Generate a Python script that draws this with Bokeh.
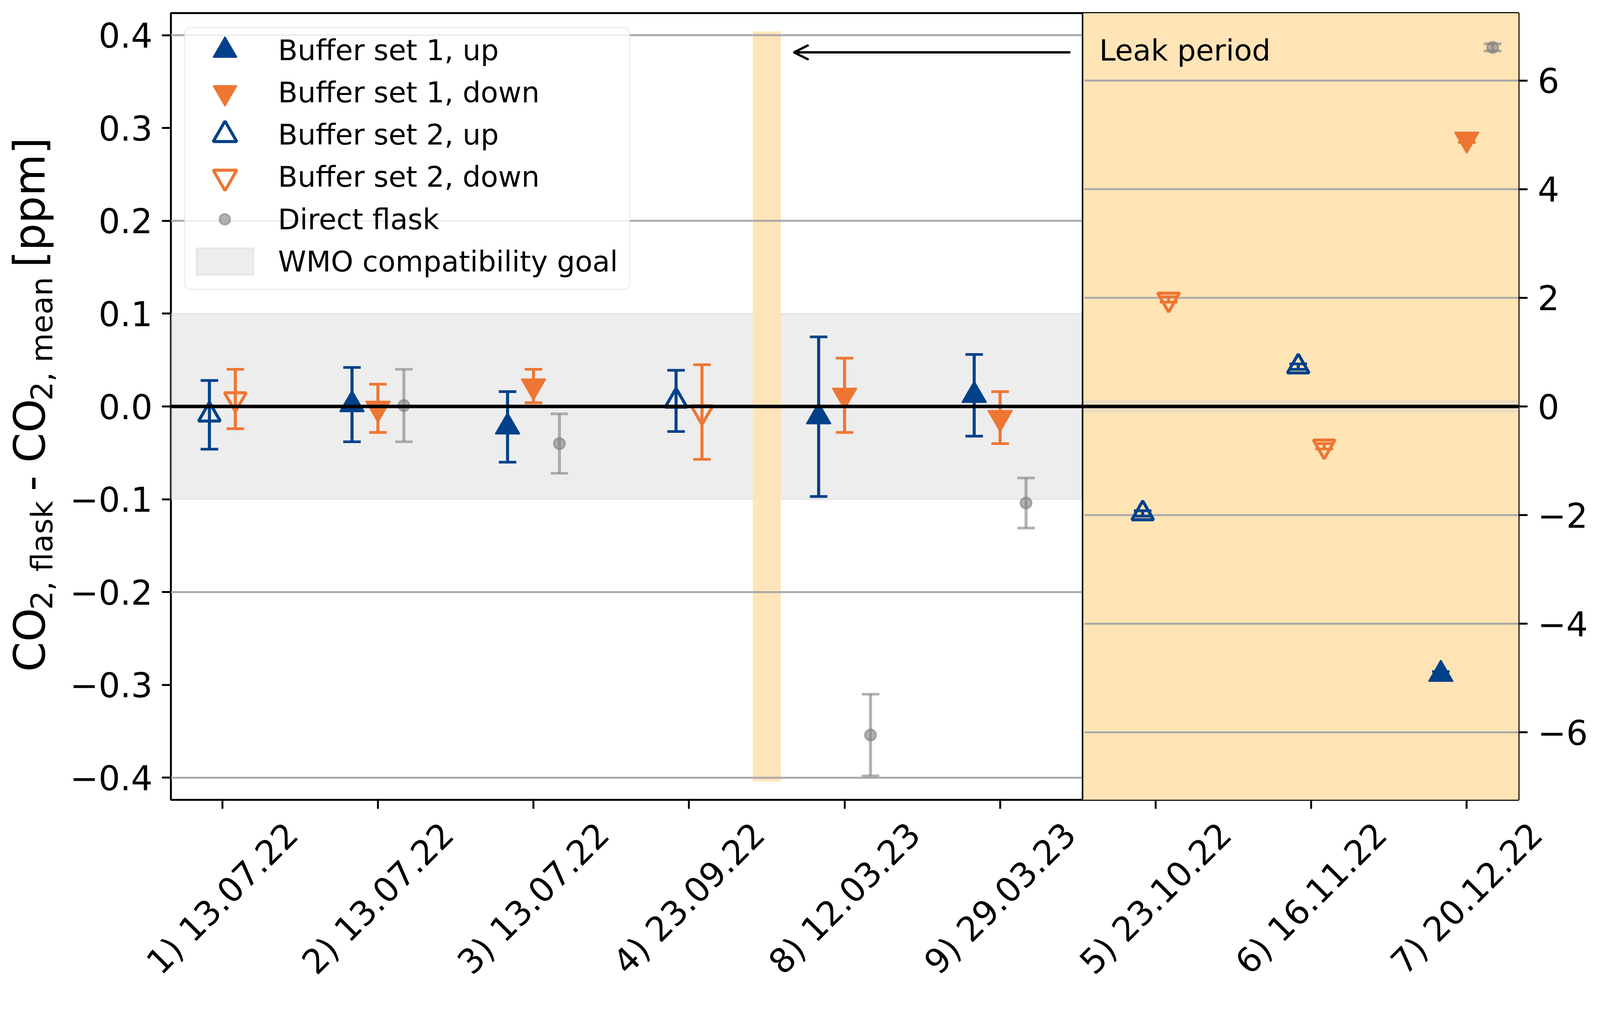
import math
from bokeh.plotting import figure
from bokeh.layouts import column, row
from bokeh.models import (Range1d, LinearAxis, FixedTicker, CustomJSTickFormatter, Span, Label,
                          ColumnDataSource, Legend, LegendItem, BoxAnnotation, Arrow, OpenHead)
from bokeh.embed import file_html
from bokeh.resources import INLINE
from bokeh.core.properties import value

# ---------------- data ----------------
categories = ["1) 13.07.22", "2) 13.07.22", "3) 13.07.22", "4) 23.09.22", "8) 12.03.23",
              "9) 29.03.23", "5) 23.10.22", "6) 16.11.22", "7) 20.12.22"]
leak_period = [False, False, False, False, False, False, True, True, True]

bs1_up_val = [None, 0.002, -0.022, None, -0.011, 0.012, None, None, -4.93]
bs1_up_err = [None, 0.040, 0.038, None, 0.086, 0.044, None, None, 0.05]
bs1_down_val = [None, -0.002, 0.022, None, 0.012, -0.012, None, None, 4.92]
bs1_down_err = [None, 0.026, 0.018, None, 0.040, 0.028, None, None, 0.06]
bs2_up_val = [-0.009, None, None, 0.006, None, None, -1.97, 0.733, None]
bs2_up_err = [0.037, None, None, 0.033, None, None, 0.05, 0.05, None]
bs2_down_val = [0.008, None, None, -0.006, None, None, 1.97, -0.733, None]
bs2_down_err = [0.032, None, None, 0.051, None, None, 0.05, 0.05, None]
flask_val = [None, 0.001, -0.040, None, -0.354, -0.104, None, None, 6.61]
flask_err = [None, 0.039, 0.032, None, 0.044, 0.027, None, None, 0.067]

left_ticks = [-0.4, -0.3, -0.2, -0.1, 0.0, 0.1, 0.2, 0.3, 0.4]
left_grid = [-0.4, -0.2, 0.2, 0.4]
right_ticks = [-6, -4, -2, 0, 2, 4, 6]
right_grid = [-6, -4, -2, 2, 4, 6]
wmo_goal = 0.1

# ---------------- style / layout ----------------
S = 0.9756          # reference picture px -> css px
OFF = 4             # offset of the content in css px


def L(v):
    return v * S


BLUE = "#00418A"
ORANGE = "#EE7633"
GRAY = "#808080"
FONT = "DejaVu Sans"

X_MIN, X_MAX = -0.331, 8.333
Y_LIM = 0.4238
R_LIM = 7.242
LEAK_X = 5.53
BREAK_X0, BREAK_X1, BREAK_Y = 3.41, 3.59, 0.404

# reference frame in picture px
RF_L, RF_T, RF_R, RF_B = 452, 38, 3988, 2102
fl = round(RF_L * S - OFF)
ft = round(RF_T * S - OFF)
fr = round(RF_R * S - OFF)
fb = round(RF_B * S - OFF)
FW, FH = fr - fl, fb - ft

CONTENT_H = 2526
YW = 172                     # width of the y-label strip
MB_L = fl - YW
MB_R = 195
MB_T = ft
MB_B = 32
MAIN_W = MB_L + FW + MB_R
MAIN_H = MB_T + FH + MB_B
XLAB_H = CONTENT_H - MAIN_H
TOTAL_W = YW + MAIN_W
PXU = FW / (X_MAX - X_MIN)   # css px per category unit

TICK_FS = f"{round(L(89))}px"

p = figure(width=MAIN_W, height=MAIN_H, output_backend="svg", toolbar_location=None,
           x_range=Range1d(X_MIN, X_MAX), y_range=Range1d(-Y_LIM, Y_LIM),
           min_border_left=MB_L, min_border_right=MB_R, min_border_top=MB_T,
           min_border_bottom=MB_B)
p.extra_y_ranges = {"right": Range1d(-R_LIM, R_LIM)}
p.background_fill_color = "white"
p.border_fill_color = "white"
p.outline_line_color = "black"
p.outline_line_width = L(5)
p.xgrid.visible = False
p.ygrid.visible = False

xa = p.xaxis[0]
xa.ticker = FixedTicker(ticks=list(range(len(categories))))
xa.formatter = CustomJSTickFormatter(code="return ''")
xa.major_label_text_font_size = "1px"
xa.major_label_standoff = 0
xa.axis_line_color = None
xa.major_tick_out = round(L(24))
xa.major_tick_in = 0
xa.major_tick_line_width = L(5)
xa.major_tick_line_color = "black"
xa.minor_tick_line_color = None

ya = p.yaxis[0]
ya.ticker = FixedTicker(ticks=left_ticks)
ya.formatter = CustomJSTickFormatter(
    code="return (tick < -1e-9 ? '\\u2212' : '') + Math.abs(tick).toFixed(1)")
ya.axis_line_color = None
ya.major_tick_out = round(L(24))
ya.major_tick_in = 0
ya.major_tick_line_width = L(5)
ya.major_tick_line_color = "black"
ya.minor_tick_line_color = None
ya.major_label_text_font_size = TICK_FS
ya.major_label_text_font = FONT
ya.major_label_text_color = "black"
ya.major_label_standoff = 24

ra = LinearAxis(y_range_name="right", ticker=FixedTicker(ticks=right_ticks),
                formatter=CustomJSTickFormatter(
                    code="return (tick < 0 ? '\\u2212' : '') + Math.abs(tick).toFixed(0)"))
ra.axis_line_color = None
ra.major_tick_out = round(L(24))
ra.major_tick_in = 0
ra.major_tick_line_width = L(5)
ra.major_tick_line_color = "black"
ra.minor_tick_line_color = None
ra.major_label_text_font_size = TICK_FS
ra.major_label_text_font = FONT
ra.major_label_text_color = "black"
ra.major_label_standoff = 26
p.add_layout(ra, "right")

# ---------------- background areas ----------------
p.quad(left=[LEAK_X], right=[X_MAX], bottom=[-Y_LIM], top=[Y_LIM],
       fill_color="moccasin", line_color=None)
wmo_r = p.quad(left=[X_MIN], right=[LEAK_X], bottom=[-wmo_goal], top=[wmo_goal],
               fill_color="#d3d3d3", fill_alpha=0.4, line_color="#d3d3d3", line_alpha=0.4,
               line_width=L(4))
p.quad(left=[LEAK_X], right=[X_MAX], bottom=[-wmo_goal], top=[wmo_goal], y_range_name="right",
       fill_color="#d3d3d3", fill_alpha=0.4, line_color="#d3d3d3", line_alpha=0.4, line_width=L(4))
p.quad(left=[BREAK_X0], right=[BREAK_X1], bottom=[-BREAK_Y], top=[BREAK_Y],
       fill_color="moccasin", fill_alpha=0.95, line_color=None)

p.segment(x0=[X_MIN] * len(left_grid), x1=[LEAK_X] * len(left_grid), y0=left_grid, y1=left_grid,
          line_color="darkgray", line_width=L(5))
p.segment(x0=[LEAK_X + 0.012] * len(right_grid), x1=[X_MAX] * len(right_grid), y0=right_grid,
          y1=right_grid, line_color="darkgray", line_width=L(5), y_range_name="right")

# ---------------- series ----------------
series = [
    dict(label="Buffer set 1, up", val=bs1_up_val, err=bs1_up_err, marker="triangle", color=BLUE, filled=True),
    dict(label="Buffer set 1, down", val=bs1_down_val, err=bs1_down_err, marker="inverted_triangle", color=ORANGE, filled=True),
    dict(label="Buffer set 2, up", val=bs2_up_val, err=bs2_up_err, marker="triangle", color=BLUE, filled=False),
    dict(label="Buffer set 2, down", val=bs2_down_val, err=bs2_down_err, marker="inverted_triangle", color=ORANGE, filled=False),
    dict(label="Direct flask", val=flask_val, err=flask_err, marker="circle", color=GRAY, filled=True),
]

offsets = {}
for ci in range(len(categories)):
    present = [si for si, s in enumerate(series) if s["val"][ci] is not None]
    n = len(present)
    for k, si in enumerate(present):
        offsets[(si, ci)] = (k - (n - 1) / 2) / 6.0

legend_renderers = {}
for si, s in enumerate(series):
    for leak in (False, True):
        xs, ys, lo, hi = [], [], [], []
        for ci in range(len(categories)):
            v = s["val"][ci]
            if v is None or leak_period[ci] != leak:
                continue
            e = s["err"][ci]
            xs.append(ci + offsets[(si, ci)])
            ys.append(v)
            lo.append(v - e)
            hi.append(v + e)
        if not xs:
            continue
        src = ColumnDataSource(dict(x=xs, y=ys, lo=lo, hi=hi))
        kw = dict(y_range_name="right") if leak else {}
        is_flask = s["marker"] == "circle"
        alpha = 0.6 if is_flask else 1.0
        p.segment(x0="x", y0="lo", x1="x", y1="hi", source=src, line_color=s["color"],
                  line_alpha=alpha, line_width=L(8), **kw)
        for col in ("lo", "hi"):
            p.scatter(x="x", y=col, source=src, marker="dash", size=L(46), line_color=s["color"],
                      line_alpha=alpha, line_width=L(7), **kw)
        if is_flask:
            r = p.scatter(x="x", y="y", source=src, marker="circle", size=L(29), fill_color=GRAY,
                          fill_alpha=0.6, line_color=GRAY, line_alpha=0.6, line_width=L(5), **kw)
        elif s["filled"]:
            r = p.scatter(x="x", y="y", source=src, marker=s["marker"], size=L(64),
                          fill_color=s["color"], line_color=s["color"], line_width=L(3), **kw)
        else:
            r = p.scatter(x="x", y="y", source=src, marker=s["marker"], size=L(57), fill_color=None,
                          line_color=s["color"], line_width=L(8), **kw)
        if not leak:
            legend_renderers[s["label"]] = r

p.add_layout(Span(location=0, dimension="width", line_color="black", line_width=L(9)))
p.add_layout(Span(location=LEAK_X, dimension="height", line_color="black", line_width=L(4)))

p.add_layout(Label(x=5.637, y=0.3836, text="Leak period", text_font=FONT,
                   text_font_size=f"{round(L(77))}px", text_align="left", text_baseline="middle",
                   text_color="black"))
p.add_layout(Arrow(end=OpenHead(size=L(36), line_width=L(6), line_color="black", line_cap="round"),
                   x_start=5.446, y_start=0.3815, x_end=3.675, y_end=0.3815,
                   line_width=L(6), line_color="black", line_cap="round"))

# ---------------- legend ----------------
p.add_layout(BoxAnnotation(left=L(488 - RF_L), right=L(1656 - RF_L), top=L(RF_B - 76),
                           bottom=L(RF_B - 763), left_units="screen", right_units="screen",
                           top_units="screen", bottom_units="screen", fill_color="white",
                           fill_alpha=0.8, line_color="#d3d3d3", line_width=L(5),
                           border_radius=round(L(16))))

LEG_FS = f"{round(L(75))}px"


def add_legend(label, renderer, left_px, center_px, gw, gh, standoff):
    gw, gh = L(gw), L(gh)
    loc = (L(left_px - RF_L), L(RF_B - center_px) - gh / 2)
    lg = Legend(items=[LegendItem(label=label, renderers=[renderer])], location=loc,
                glyph_width=round(gw), glyph_height=round(gh), label_height=round(gh),
                label_standoff=round(L(standoff)), padding=0, margin=0, spacing=0,
                border_line_color=None, background_fill_alpha=0, label_text_font=FONT,
                label_text_font_size=LEG_FS, label_text_color="black")
    p.add_layout(lg)


for k, lab in enumerate(["Buffer set 1, up", "Buffer set 1, down", "Buffer set 2, up",
                         "Buffer set 2, down"]):
    add_legend(lab, legend_renderers[lab], 500, 135 + 111 * k, 188, 155, 46)
add_legend("Direct flask", legend_renderers["Direct flask"], 559, 579, 70, 88, 105)
add_legend("WMO compatibility goal", wmo_r, 500, 690, 188, 88, 46)

# ---------------- y-axis label strip (with subscripts) ----------------
ylab = figure(width=YW, height=MAIN_H, x_range=Range1d(0, YW), y_range=Range1d(0, MAIN_H),
              x_axis_type=None, y_axis_type=None, min_border=0, outline_line_color=None,
              toolbar_location=None, output_backend="svg")
ylab.background_fill_color = "white"
ylab.border_fill_color = "white"

ADV = {'C': 1430, 'O': 1612, '2': 1303, ',': 651, ' ': 651, 'f': 721, 'l': 569, 'a': 1255,
       's': 1067, 'k': 1186, '-': 739, 'm': 1995, 'e': 1260, 'n': 1298, '[': 799, 'p': 1300, ']': 799}
MAIN_FS = L(113)
SUB_FS = MAIN_FS * 0.7


def adv(txt, size):
    return sum(ADV[c] for c in txt) / 2048.0 * size


pieces = [("CO", False), ("2, flask", True), (" - ", False), ("CO", False), ("2, mean", True),
          (" [ppm]", False)]
total = sum(adv(t, SUB_FS if sb else MAIN_FS) for t, sb in pieces)
center_y = MAIN_H - (MB_T + FH / 2.0)
pos = center_y - total / 2.0
base_main = L(121) - OFF
base_sub = L(141) - OFF
for txt, sb in pieces:
    size = SUB_FS if sb else MAIN_FS
    lead = len(txt) - len(txt.lstrip(" "))
    bx = (base_sub if sb else base_main) - 0.346 * size
    ylab.add_layout(Label(x=bx, y=pos + adv(" " * lead, size), text=txt.strip(" "),
                          angle=math.pi / 2, text_align="left", text_baseline="middle",
                          text_font=FONT, text_font_size=f"{size:.1f}px", text_color="black"))
    pos += adv(txt, size)

# ---------------- x tick labels strip (centred, rotated 45 deg) ----------------
x0 = X_MIN - (YW + MB_L) / PXU
xlab = figure(width=TOTAL_W, height=XLAB_H, x_range=Range1d(x0, x0 + TOTAL_W / PXU),
              y_range=Range1d(0, XLAB_H), x_axis_type=None, y_axis_type=None, min_border=0,
              outline_line_color=None, toolbar_location=None, output_backend="svg")
xlab.background_fill_color = "white"
xlab.border_fill_color = "white"
label_center_y = CONTENT_H - (L(2367) - OFF - 6)
xlab.text(x=list(range(len(categories))), y=[label_center_y] * len(categories), text=categories,
          angle=math.pi / 4, text_align="center", text_baseline="middle",
          text_font=value(FONT), text_font_size=TICK_FS, text_color="black")

layout = column(row(ylab, p, spacing=0), xlab, spacing=0)
open("out.html", "w").write(file_html(layout, INLINE))
